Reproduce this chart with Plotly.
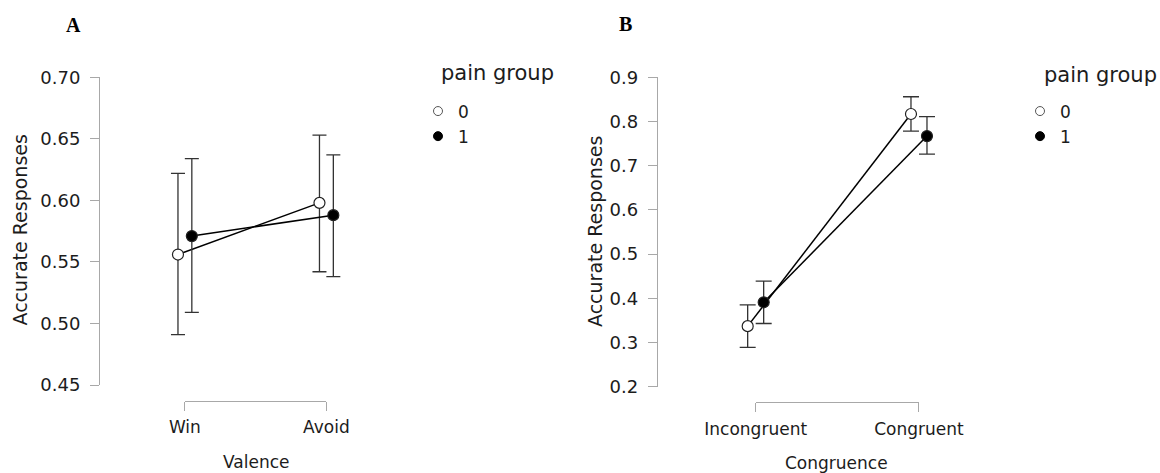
import plotly.graph_objects as go

# ---- data -------------------------------------------------------------
valence_levels = ["Win", "Avoid"]
valence_mean_0 = [0.556, 0.598]
valence_low_0 = [0.491, 0.542]
valence_high_0 = [0.622, 0.653]
valence_mean_1 = [0.571, 0.588]
valence_low_1 = [0.509, 0.538]
valence_high_1 = [0.634, 0.637]

congruence_levels = ["Incongruent", "Congruent"]
congruence_mean_0 = [0.337, 0.817]
congruence_low_0 = [0.289, 0.778]
congruence_high_0 = [0.385, 0.856]
congruence_mean_1 = [0.391, 0.767]
congruence_low_1 = [0.343, 0.726]
congruence_high_1 = [0.439, 0.811]

groups = ["0", "1"]

ticks_a = [0.45, 0.50, 0.55, 0.60, 0.65, 0.70]
ticks_b = [0.2, 0.3, 0.4, 0.5, 0.6, 0.7, 0.8, 0.9]

# ---- layout helpers ---------------------------------------------------
W, H = 1160, 473
FONT = "DejaVu Sans"
TXT = "#1c1c1c"
AXC = "#a8a8a8"
DODGE = 0.049


def fx(px):
    return px / W


def fy(py):
    return (H - py) / H


def add_group(fig, levels, mean, low, high, offset, xa, ya, filled, cap):
    xs = [i + offset for i in range(len(levels))]
    fig.add_trace(go.Scatter(
        x=xs, y=mean, xaxis=xa, yaxis=ya, mode="lines+markers",
        showlegend=False,
        line=dict(color="black", width=1.5),
        marker=dict(size=11, symbol="circle",
                    color="black" if filled else "white",
                    line=dict(color="#222222", width=1.2)),
        error_y=dict(type="data", symmetric=False,
                     array=[h - m for h, m in zip(high, mean)],
                     arrayminus=[m - l for m, l in zip(mean, low)],
                     color="#333333", thickness=1.3, width=cap),
    ))


fig = go.Figure()

# panel A: valence
add_group(fig, valence_levels, valence_mean_0, valence_low_0, valence_high_0,
          -DODGE, "x", "y", False, 7)
add_group(fig, valence_levels, valence_mean_1, valence_low_1, valence_high_1,
          DODGE, "x", "y", True, 7)
# panel B: congruence
add_group(fig, congruence_levels, congruence_mean_0, congruence_low_0,
          congruence_high_0, -DODGE, "x2", "y2", False, 8)
add_group(fig, congruence_levels, congruence_mean_1, congruence_low_1,
          congruence_high_1, DODGE, "x2", "y2", True, 8)

# legend entries (smaller symbols than the plotted points)
for leg, xa, ya in (("legend", "x", "y"), ("legend2", "x2", "y2")):
    for g, filled in zip(groups, (False, True)):
        fig.add_trace(go.Scatter(
            x=[None], y=[None], xaxis=xa, yaxis=ya, mode="markers", name=g,
            legend=leg, showlegend=True,
            marker=dict(size=9, color="black" if filled else "white",
                        line=dict(color="#555555" if not filled else "black",
                                  width=1)),
        ))

# empty traces so the category bracket axes get drawn
for xa, ya in (("x3", "y3"), ("x4", "y4")):
    fig.add_trace(go.Scatter(x=[None], y=[None], xaxis=xa, yaxis=ya,
                             mode="markers", showlegend=False,
                             hoverinfo="skip"))

# panel geometry (pixels): y-axis line x, category spacing, plot top/bottom
A_AX, A_SP, A_TOP, A_BOT = 100.0, 141.5, 77.3, 385.0
B_AX, B_SP, B_TOP, B_BOT = 657.7, 163.3, 77.3, 386.7
XR = [-0.6, 1.6]
SPAN = XR[1] - XR[0]

hidden = dict(visible=False, showgrid=False, zeroline=False, automargin=False)

yaxis_common = dict(
    showgrid=False, zeroline=False, showline=True, linecolor=AXC, linewidth=1,
    ticks="outside", ticklen=9, tickcolor=AXC, tickwidth=1, automargin=False,
    tickfont=dict(family=FONT, size=18, color=TXT), ticklabelstandoff=6,
)

bracket_common = dict(
    range=[0, 1], showgrid=False, zeroline=False, showline=True,
    linecolor=AXC, linewidth=1, ticks="outside", ticklen=9, tickcolor=AXC,
    tickwidth=1, tickvals=[0, 1], side="bottom", automargin=False,
    tickfont=dict(family=FONT, size=17, color=TXT), ticklabelstandoff=2,
)

fig.update_layout(
    template="none",
    width=W, height=H,
    margin=dict(l=0, r=0, t=0, b=0, pad=0, autoexpand=False),
    paper_bgcolor="white", plot_bgcolor="white",
    font=dict(family=FONT, color=TXT),
    xaxis=dict(domain=[fx(A_AX), fx(A_AX + SPAN * A_SP)], range=XR,
               anchor="y", **hidden),
    yaxis=dict(domain=[fy(A_BOT), fy(A_TOP)], range=[0.45, 0.70],
               anchor="x", tickvals=ticks_a, tickformat=".2f", **yaxis_common),
    xaxis2=dict(domain=[fx(B_AX), fx(B_AX + SPAN * B_SP)], range=XR,
                anchor="y2", **hidden),
    yaxis2=dict(domain=[fy(B_BOT), fy(B_TOP)], range=[0.2, 0.9],
                anchor="x2", tickvals=ticks_b, tickformat=".1f", **yaxis_common),
    # category brackets under each panel
    xaxis3=dict(domain=[fx(A_AX + 0.6 * A_SP), fx(A_AX + 1.6 * A_SP)],
                anchor="y3", ticktext=valence_levels, **bracket_common),
    yaxis3=dict(domain=[fy(400.5), fy(400.5) + 0.005], anchor="x3", **hidden),
    xaxis4=dict(domain=[fx(B_AX + 0.6 * B_SP), fx(B_AX + 1.6 * B_SP)],
                anchor="y4", ticktext=congruence_levels, **bracket_common),
    yaxis4=dict(domain=[fy(402.3), fy(402.3) + 0.005], anchor="x4", **hidden),
    legend=dict(x=fx(418), y=fy(93.5), xanchor="left", yanchor="top",
                font=dict(size=17, family=FONT, color=TXT),
                bgcolor="rgba(0,0,0,0)", borderwidth=0),
    legend2=dict(x=fx(1020), y=fy(93.5), xanchor="left", yanchor="top",
                 font=dict(size=17, family=FONT, color=TXT),
                 bgcolor="rgba(0,0,0,0)", borderwidth=0),
)

ann = [
    dict(text="<b>A</b>", x=fx(73), y=fy(25), xanchor="center",
         font=dict(family="Liberation Serif", size=20, color="black")),
    dict(text="<b>B</b>", x=fx(625), y=fy(24), xanchor="center",
         font=dict(family="Liberation Serif", size=20, color="black")),
    dict(text="Accurate Responses", x=fx(19.5), y=fy(230), textangle=-90,
         xanchor="center", font=dict(family=FONT, size=19, color=TXT)),
    dict(text="Accurate Responses", x=fx(595), y=fy(232), textangle=-90,
         xanchor="center", font=dict(family=FONT, size=19, color=TXT)),
    dict(text="Valence", x=fx(256), y=fy(462), xanchor="center",
         font=dict(family=FONT, size=17, color=TXT)),
    dict(text="Congruence", x=fx(836.6), y=fy(463), xanchor="center",
         font=dict(family=FONT, size=17, color=TXT)),
    # legend headings
    dict(text="pain group", x=fx(439), y=fy(73), xanchor="left",
         font=dict(family=FONT, size=21, color=TXT)),
    dict(text="pain group", x=fx(1041.7), y=fy(75), xanchor="left",
         font=dict(family=FONT, size=21, color=TXT)),
]
for a in ann:
    fig.add_annotation(xref="paper", yref="paper", showarrow=False,
                       yanchor="middle", **a)

fig.write_html("out.html")
